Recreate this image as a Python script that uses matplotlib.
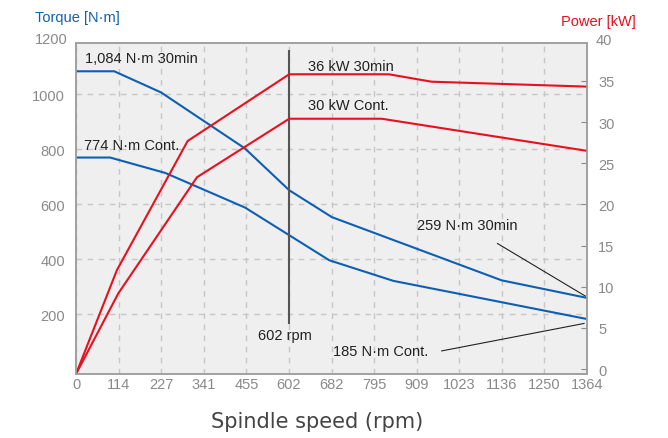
import matplotlib
matplotlib.use('Agg')
import matplotlib.pyplot as plt
import numpy as np

# speed axis: evenly spaced ticks, labels as printed on the chart
tick_labels = ['0', '114', '227', '341', '455', '602', '682', '795',
               '909', '1023', '1136', '1250', '1364']
max_rpm = 1364

# torque curves [N·m]
torque_30min_rpm = [0, 102, 227, 451, 569, 683, 1136, 1364]
torque_30min = [1084, 1084, 1007, 803, 651, 553, 323, 259]
torque_cont_rpm = [0, 91, 238, 451, 676, 847, 1364]
torque_cont = [770, 770, 714, 588, 396, 321, 182]

# power curves [kW]
power_30min_rpm = [0, 109, 298, 569, 835, 949, 1364]
power_30min = [-0.6, 12.0, 27.7, 35.8, 35.8, 34.9, 34.3]
power_cont_rpm = [0, 113, 323, 569, 816, 1364]
power_cont = [-0.6, 9.2, 23.3, 30.4, 30.4, 26.5]

base_speed = 568  # drawn at the "602" tick
BLUE = '#0d5fb3'
RED = '#e8101e'
GRAY = '#8a8a8a'
FONT = 'Liberation Sans'

fig = plt.figure(figsize=(6.68, 4.39), dpi=100)
ax = fig.add_axes([0.1138, 0.1458, 0.7650, 0.7540])
ax2 = ax.twinx()

ax.set_facecolor('#efefef')
ticks = np.linspace(0, max_rpm, len(tick_labels))
ax.set_xlim(0, max_rpm)
ax.set_ylim(-18, 1187)
ax2.set_ylim(-0.6, 39.6)

ax.set_xticks(ticks)
ax.set_xticklabels(tick_labels)
ax.set_yticks([200, 400, 600, 800, 1000])
ax2.set_yticks(range(0, 36, 5))

ax.grid(True, color='#c6c6c6', linestyle=(0, (4, 4)), linewidth=1)
ax.tick_params(axis='both', length=0, labelsize=10.5, labelcolor=GRAY, pad=8)
ax.tick_params(axis='x', pad=2)
ax2.tick_params(axis='y', direction='in', length=4, color=GRAY, labelsize=10.5,
                labelcolor=GRAY, pad=8)
for lab in ax.get_xticklabels() + ax.get_yticklabels() + ax2.get_yticklabels():
    lab.set_fontfamily(FONT)

# top labels sit just above the frame
ytop = dict(fontsize=10.5, color=GRAY, family=FONT, va='center', clip_on=False)
ax.text(-0.016, 1200, '1200', transform=ax.get_yaxis_transform(), ha='right', **ytop)
ax2.text(1.016, 40, '40', transform=ax2.get_yaxis_transform(), ha='left', **ytop)

for a in (ax, ax2):
    for sp in a.spines.values():
        sp.set_color('#a0a0a0')
        sp.set_linewidth(1.2)

ax.plot(torque_30min_rpm, torque_30min, color=BLUE, lw=1.5)
ax.plot(torque_cont_rpm, torque_cont, color=BLUE, lw=1.5)
ax2.plot(power_30min_rpm, power_30min, color=RED, lw=1.5)
ax2.plot(power_cont_rpm, power_cont, color=RED, lw=1.5)

ax.plot([base_speed, base_speed], [167, 1159], color='#555555', lw=1.5)

txt = dict(fontsize=10.5, color='#222222', family=FONT, va='center')
ax.text(24, 1133, '1,084 N·m 30min', **txt)
ax.text(21, 814, '774 N·m Cont.', **txt)
ax.text(619, 1104, '36 kW 30min', **txt)
ax.text(619, 960, '30 kW Cont.', **txt)
ax.text(909, 524, '259 N·m 30min', **txt)
ax.text(686, 66, '185 N·m Cont.', **txt)
ax.text(558, 123, '602 rpm', ha='center', **txt)

# leader lines to the curve ends
ax.plot([1125, 1359], [457, 266], color='#222222', lw=0.8)
ax.plot([976, 1356], [66, 166], color='#222222', lw=0.8)

fig.text(0.052, 0.958, 'Torque [N·m]', color=BLUE, fontsize=10.5, family=FONT,
         va='center', ha='left')
fig.text(0.951, 0.951, 'Power [kW]', color=RED, fontsize=10.5, family=FONT,
         va='center', ha='right')
fig.text(0.474, 0.039, 'Spindle speed (rpm)', color='#444444', fontsize=15,
         va='center', ha='center')

fig.savefig('out.png', dpi=100)
